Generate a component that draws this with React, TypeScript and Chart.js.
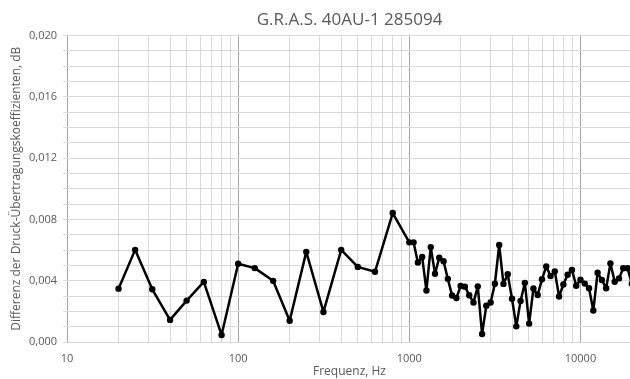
import React, { useEffect, useRef } from 'react';
import { Chart, registerables } from 'chart.js';

Chart.register(...registerables);

const chartTitle = 'G.R.A.S. 40AU-1 285094';
const xAxisTitle = 'Frequenz, Hz';
const yAxisTitle = 'Differenz der Druck-Übertragungskoeffizienten, dB';

const frequencies = [
  20, 25, 31.5, 40, 50, 63, 80, 100, 125, 160, 200, 250, 315, 400, 500, 630, 800,
  1000, 1059, 1122, 1189, 1259, 1334, 1413, 1496, 1585, 1679, 1778, 1884, 1995,
  2113, 2239, 2371, 2512, 2661, 2818, 2985, 3162, 3350, 3548, 3758, 3981, 4217,
  4467, 4732, 5012, 5309, 5623, 5957, 6310, 6683, 7079, 7499, 7943, 8414, 8913,
  9441, 10000, 10593, 11220, 11885, 12589, 13335, 14125, 14962, 15849, 16788,
  17783, 18836, 19953,
];

const differences = [
  0.00348, 0.00601, 0.00344, 0.00144, 0.0027, 0.00392, 0.00046, 0.0051, 0.00482,
  0.00399, 0.00139, 0.00588, 0.00196, 0.00601, 0.0049, 0.00458, 0.00841,
  0.0065, 0.0065, 0.00519, 0.00554, 0.00336, 0.00619, 0.00445, 0.0055, 0.00527,
  0.00412, 0.00303, 0.00287, 0.00365, 0.00361, 0.00305, 0.00257, 0.00363, 0.00052,
  0.00237, 0.00258, 0.0038, 0.00633, 0.00379, 0.00442, 0.00282, 0.00102, 0.00268,
  0.00386, 0.0012, 0.00349, 0.00307, 0.00409, 0.00493, 0.0043, 0.00461, 0.00297,
  0.00375, 0.00439, 0.0047, 0.00367, 0.00406, 0.00381, 0.00351, 0.00205, 0.00452,
  0.00404, 0.00351, 0.00513, 0.00393, 0.00415, 0.00481, 0.00481, 0.0038,
];

const xMin = 10;
const xMax = 20000;
const xTickLabels = [10, 100, 1000, 10000];
const yMin = 0;
const yMax = 0.02;
const yGridStep = 0.001;
const yLabelStep = 0.004;

const textColor = '#595959';
const font = '"Open Sans", "DejaVu Sans", sans-serif';

function buildLogGrid(): number[] {
  const out: number[] = [];
  for (let p = 10; p <= xMax; p *= 10) {
    for (let m = 1; m <= 9; m++) {
      const v = m * p;
      if (v >= xMin && v <= xMax) out.push(v);
    }
  }
  return out;
}

export default function App() {
  const canvasRef = useRef<HTMLCanvasElement | null>(null);

  useEffect(() => {
    const canvas = canvasRef.current;
    if (!canvas) return;
    const gridValues = buildLogGrid();
    const isMajor = (v: number) => xTickLabels.some((t) => Math.abs(t - v) < 1e-6);
    const chart = new Chart(canvas, {
      type: 'line',
      data: {
        datasets: [
          {
            data: frequencies.map((f, i) => ({ x: f, y: differences[i] })),
            borderColor: '#000000',
            backgroundColor: '#000000',
            borderWidth: 2.5,
            borderJoinStyle: 'round',
            borderCapStyle: 'round',
            pointRadius: 3.2,
            pointBorderWidth: 0,
            pointBackgroundColor: '#000000',
            tension: 0,
          },
        ],
      },
      options: {
        responsive: false,
        animation: false,
        devicePixelRatio: 1,
        layout: { padding: { left: 0, right: 0, top: 0, bottom: 0 } },
        plugins: {
          legend: { display: false },
          tooltip: { enabled: false },
          title: {
            display: true,
            text: chartTitle,
            color: textColor,
            fullSize: false,
            font: { family: font, size: 17, weight: 'normal' },
            padding: { top: 10, bottom: 5 },
          },
        },
        scales: {
          x: {
            type: 'logarithmic',
            min: xMin,
            max: xMax,
            afterBuildTicks: (scale: any) => {
              scale.ticks = gridValues.map((v) => ({ value: v, major: isMajor(v) }));
            },
            afterFit: (scale: any) => {
              scale.height = 37;
            },
            ticks: {
              autoSkip: false,
              maxRotation: 0,
              minRotation: 0,
              padding: 0,
              color: textColor,
              font: { family: font, size: 11 },
              callback: (value: any) => {
                const v = Number(value);
                return isMajor(v) ? String(v) : '';
              },
            },
            grid: {
              drawTicks: true,
              tickLength: 10,
              tickColor: 'rgba(0,0,0,0)',
              color: (ctx: any) => {
                const v = ctx.tick ? ctx.tick.value : 0;
                return isMajor(v) ? '#a6a6a6' : '#d9d9d9';
              },
              lineWidth: 1,
            },
            border: { display: false },
            title: {
              display: true,
              text: xAxisTitle,
              color: textColor,
              font: { family: font, size: 12 },
              padding: { top: 0, bottom: 0 },
            },
          },
          y: {
            type: 'linear',
            min: yMin,
            max: yMax,
            afterFit: (scale: any) => {
              scale.width = 67;
            },
            ticks: {
              stepSize: yGridStep,
              autoSkip: false,
              padding: 6,
              color: textColor,
              font: { family: font, size: 11 },
              callback: (value: any) => {
                const v = Number(value);
                const n = Math.round(v / yGridStep);
                const every = Math.round(yLabelStep / yGridStep);
                return n % every === 0 ? v.toFixed(3).replace('.', ',') : '';
              },
            },
            grid: {
              color: '#d9d9d9',
              lineWidth: 1,
              tickLength: 4,
            },
            border: { display: false },
            title: {
              display: true,
              text: yAxisTitle,
              color: textColor,
              font: { family: font, size: 12 },
              padding: { top: 9, bottom: 0 },
            },
          },
        },
      },
    } as any);
    return () => chart.destroy();
  }, []);

  return (
    <div style={{ position: 'fixed', left: 0, top: 0, width: 630, height: 379, overflow: 'hidden', background: '#ffffff' }}>
      <canvas ref={canvasRef} width={636} height={379} style={{ width: 636, height: 379 }} />
    </div>
  );
}
